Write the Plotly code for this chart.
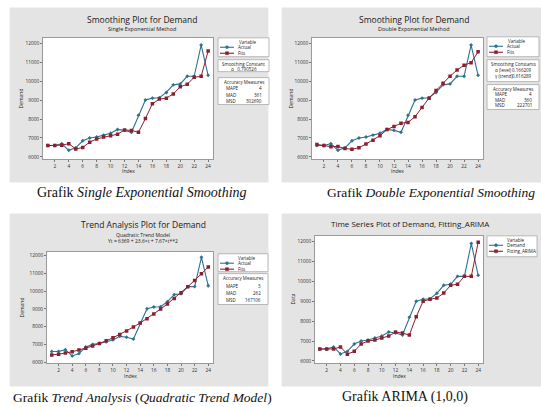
import plotly.graph_objects as go

# ---- data -------------------------------------------------------------
index = list(range(1, 25))
demand = [6600, 6600, 6700, 6350, 6480, 6850, 7000, 7050, 7150, 7250, 7450, 7400,
          7300, 8200, 9000, 9100, 9120, 9400, 9800, 9850, 10250, 10250, 11900, 10300]
fits_single = [6600, 6600, 6620, 6700, 6420, 6500, 6780, 6950, 7050, 7120, 7200, 7420,
               7400, 7300, 8020, 8800, 9050, 9100, 9320, 9700, 9830, 10200, 10250, 11580]
fits_double = [6660, 6600, 6540, 6550, 6450, 6400, 6490, 6680, 6880, 7120, 7440, 7610,
               7780, 7820, 8120, 8610, 9100, 9500, 9890, 10260, 10580, 10840, 10970, 11540]
fits_trend = [6400, 6447, 6509, 6586, 6679, 6787, 6910, 7049, 7203, 7372, 7557, 7757,
              7972, 8203, 8448, 8710, 8986, 9278, 9586, 9909, 10247, 10600, 10969, 11353]
fits_arima = [6600, 6600, 6600, 6700, 6340, 6480, 6850, 7000, 7050, 7150, 7250, 7450,
              7400, 7300, 8220, 9000, 9100, 9160, 9410, 9800, 9850, 10250, 10250, 11960]
y_ticks = [6000, 7000, 8000, 9000, 10000, 11000, 12000]
x_ticks = [2, 4, 6, 8, 10, 12, 14, 16, 18, 20, 22, 24]

W, H = 541, 407
SANS = "Open Sans"
SERIF = "Liberation Serif"
C_ACT = "#2f7290"
C_FIT = "#8c1f2f"
PANEL = "#e4e4e4"


def px(x):
    return x / W


def py(y):
    return 1 - y / H


panels = [
    dict(gray=(10, 268, 8, 183), plot=(43, 213, 38, 160), yr=[5880, 12280],
         fits=fits_single, names=("Actual", "Fits"), ylab="Demand", ylx=21, idx_y=172,
         titles=[("Smoothing Plot for Demand", 142, 20, 8.5),
                 ("Single Exponential Method", 142, 29.5, 5.5)],
         leg=(218, 269, 38, 57),
         boxes=[dict(y=(60, 72), head="Smoothing Constant",
                     rows=[("α", "0.790526")], rowys=[69], centre=True),
                dict(y=(78, 105), head="Accuracy Measures",
                     rows=[("MAPE", "4"), ("MAD", "361"), ("MSD", "302690")],
                     rowys=[88.5, 95, 101])],
         caption=("Grafik <i>Single Exponential Smoothing</i>", 142, 193, "center", 14)),
    dict(gray=(282, 541, 8, 183), plot=(312, 483, 38, 160), yr=[5880, 12280],
         fits=fits_double, names=("Actual", "Fits"), ylab="Demand", ylx=291, idx_y=172,
         titles=[("Smoothing Plot for Demand", 414, 20, 8.5),
                 ("Double Exponential Method", 414, 29.5, 5.5)],
         leg=(487, 539, 37, 57),
         boxes=[dict(y=(60, 82), head="Smoothing Constants",
                     rows=[("α (level)", "0.166209"), ("γ (trend)", "0.616289")],
                     rowys=[70, 76]),
                dict(y=(85, 110), head="Accuracy Measures",
                     rows=[("MAPE", "4"), ("MAD", "360"), ("MSD", "222701")],
                     rowys=[94.5, 100.5, 106])],
         caption=("Grafik <i>Double Exponential Smoothing</i>", 537, 193, "right", 13.5)),
    dict(gray=(10, 268, 215, 388), plot=(47, 213, 253, 365), yr=[5940, 12210],
         fits=fits_trend, names=("Actual", "Fits"), ylab="Demand", ylx=22, idx_y=378,
         titles=[("Trend Analysis Plot for Demand", 143, 226, 8.5),
                 ("Quadratic Trend Model", 143, 236, 5),
                 ("Yt = 6369 + 23.6×t + 7.67×t**2", 143, 242.5, 5)],
         leg=(218, 268, 255, 273),
         boxes=[dict(y=(275, 306), head="Accuracy Measures",
                     rows=[("MAPE", "3"), ("MAD", "262"), ("MSD", "167106")],
                     rowys=[287, 294, 301])],
         caption=("Grafik <i>Trend Analysis</i> (<i>Quadratic Trend Model</i>)", 11, 399, "left", 13.5)),
    dict(gray=(282, 541, 215, 388), plot=(315, 483, 237, 365), yr=[5885, 12285],
         fits=fits_arima, names=("Demand", "Fitting_ARIMA"), ylab="Data", ylx=293, idx_y=378,
         titles=[("Time Series Plot of Demand, Fitting_ARIMA", 410, 225, 8)],
         leg=(487, 537, 237, 258),
         boxes=[],
         caption=("Grafik ARIMA (1,0,0)", 405, 399, "center", 14)),
]

fig = go.Figure()
shapes = []
annots = []


def text(t, x, y, size, xanchor="center", angle=0, family=SANS, color="#222"):
    annots.append(dict(text=t, x=px(x), y=py(y), xref="paper", yref="paper",
                       xanchor=xanchor, yanchor="middle", showarrow=False,
                       textangle=angle, font=dict(family=family, size=size, color=color)))


def box(x0, x1, y0, y1, fill="white", line="#a8a8a8"):
    shapes.append(dict(type="rect", xref="paper", yref="paper", layer="below",
                       x0=px(x0), x1=px(x1), y0=py(y1), y1=py(y0),
                       fillcolor=fill, line=dict(color=line, width=0.8)))


for i, p in enumerate(panels, start=1):
    sfx = "" if i == 1 else str(i)
    gx0, gx1, gy0, gy1 = p["gray"]
    box(gx0, gx1, gy0, gy1, fill=PANEL, line=PANEL)

    x0, x1, y0, y1 = p["plot"]
    common = dict(showline=True, mirror=True, linecolor="#9a9a9a", linewidth=0.8,
                  ticks="outside", ticklen=2, tickwidth=0.6, tickcolor="#777",
                  showgrid=False, zeroline=False,
                  tickfont=dict(family=SANS, size=4.8, color="#333"))
    fig.update_layout(**{
        "xaxis" + sfx: dict(domain=[px(x0), px(x1)], range=[0.3, 24.7],
                            tickvals=x_ticks, anchor="y" + sfx, **common),
        "yaxis" + sfx: dict(domain=[py(y1), py(y0)], range=p["yr"],
                            tickvals=y_ticks, tickformat="d", anchor="x" + sfx, **common),
    })
    shapes.append(dict(type="rect", xref="paper", yref="paper", layer="below",
                       x0=px(x0), x1=px(x1), y0=py(y1), y1=py(y0),
                       fillcolor="white", line=dict(width=0)))

    fig.add_trace(go.Scatter(x=index, y=demand, mode="lines+markers", name=p["names"][0],
                             xaxis="x" + sfx, yaxis="y" + sfx, showlegend=False,
                             line=dict(color=C_ACT, width=1.1),
                             marker=dict(color=C_ACT, size=3, symbol="diamond")))
    fig.add_trace(go.Scatter(x=index, y=p["fits"], mode="lines+markers", name=p["names"][1],
                             xaxis="x" + sfx, yaxis="y" + sfx, showlegend=False,
                             line=dict(color=C_FIT, width=1),
                             marker=dict(color=C_FIT, size=3.5, symbol="square")))

    for t, tx, ty, ts in p["titles"]:
        text(t, tx, ty, ts, color="#1a1a1a")
    text(p["ylab"], p["ylx"], (y0 + y1) / 2, 5, angle=-90)
    text("Index", (x0 + x1) / 2, p["idx_y"], 5)

    # legend box
    lx0, lx1, ly0, ly1 = p["leg"]
    box(lx0, lx1, ly0, ly1)
    text("Variable", (lx0 + lx1) / 2 + 4, ly0 + 4, 4.5)
    for k, (nm, col, sym) in enumerate([(p["names"][0], C_ACT, "circle"),
                                         (p["names"][1], C_FIT, "rect")]):
        yy = ly0 + 9.5 + k * 6
        shapes.append(dict(type="line", xref="paper", yref="paper",
                           x0=px(lx0 + 2), x1=px(lx0 + 16), y0=py(yy), y1=py(yy),
                           line=dict(color=col, width=1.1)))
        shapes.append(dict(type=sym, xref="paper", yref="paper",
                           x0=px(lx0 + 7.5), x1=px(lx0 + 10.5), y0=py(yy + 1.5), y1=py(yy - 1.5),
                           fillcolor=col, line=dict(color=col, width=0.5)))
        text(nm, lx0 + 18, yy, 4.5, xanchor="left")

    # smoothing constants / accuracy measures boxes
    for b in p["boxes"]:
        by0, by1 = b["y"]
        box(lx0, lx1, by0, by1)
        text(b["head"], (lx0 + lx1) / 2, by0 + 4, 4.5)
        for (lab, val), ry in zip(b["rows"], b["rowys"]):
            if b.get("centre"):
                text(lab + "   " + val, (lx0 + lx1) / 2, ry, 4.5)
            else:
                text(lab, lx0 + 6, ry, 4.5, xanchor="left")
                text(val, lx1 - 5, ry, 4.5, xanchor="right")

    cap, cx, cy, anchor, cs = p["caption"]
    text(cap, cx, cy, cs, xanchor=anchor, family=SERIF, color="#111")

fig.update_layout(width=W, height=H, margin=dict(l=0, r=0, t=0, b=0),
                  paper_bgcolor="white", plot_bgcolor="white",
                  shapes=shapes, annotations=annots, showlegend=False)

fig.write_html("out.html")
